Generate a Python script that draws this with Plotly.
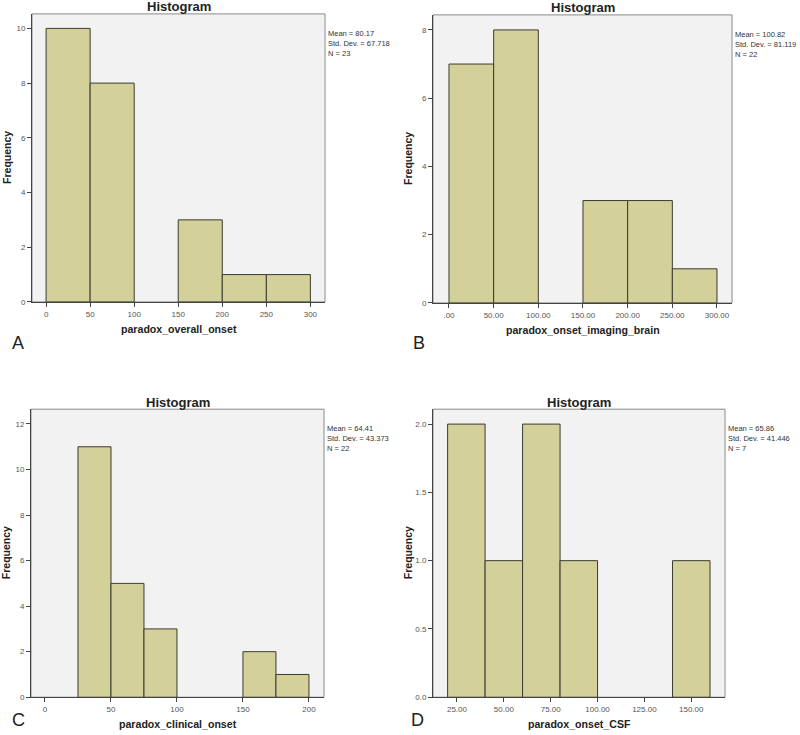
import plotly.graph_objects as go

W, H = 800, 735

# ---- data ----
a_edges = [0, 50, 100, 150, 200, 250, 300]
a_counts = [10, 8, 0, 3, 1, 1]
a_ticks = [0, 50, 100, 150, 200, 250, 300]
a_ticktext = ["0", "50", "100", "150", "200", "250", "300"]
a_yticks = [0, 2, 4, 6, 8, 10]
a_stats = ["Mean = 80.17", "Std. Dev. = 67.718", "N = 23"]

b_edges = [0, 50, 100, 150, 200, 250, 300]
b_counts = [7, 8, 0, 3, 3, 1]
b_ticks = [0, 50, 100, 150, 200, 250, 300]
b_ticktext = [".00", "50.00", "100.00", "150.00", "200.00", "250.00", "300.00"]
b_yticks = [0, 2, 4, 6, 8]
b_stats = ["Mean = 100.82", "Std. Dev. = 81.119", "N = 22"]

c_edges = [25, 50, 75, 100, 125, 150, 175, 200]
c_counts = [11, 5, 3, 0, 0, 2, 1]
c_ticks = [0, 50, 100, 150, 200]
c_ticktext = ["0", "50", "100", "150", "200"]
c_yticks = [0, 2, 4, 6, 8, 10, 12]
c_stats = ["Mean = 64.41", "Std. Dev. = 43.373", "N = 22"]

d_edges = [20, 40, 60, 80, 100, 120, 140, 160]
d_counts = [2, 1, 2, 1, 0, 0, 1]
d_ticks = [25, 50, 75, 100, 125, 150]
d_ticktext = ["25.00", "50.00", "75.00", "100.00", "125.00", "150.00"]
d_yticks = [0, 0.5, 1.0, 1.5, 2.0]
d_yticktext = ["0.0", "0.5", "1.0", "1.5", "2.0"]
d_stats = ["Mean = 65.86", "Std. Dev. = 41.446", "N = 7"]

panels = [
    dict(edges=a_edges, counts=a_counts, ticks=a_ticks, ticktext=a_ticktext,
         yticks=a_yticks, yticktext=[str(v) for v in a_yticks], stats=a_stats,
         xtitle="paradox_overall_onset", letter="A", letter_pos=(18, 345),
         frame=(32, 325, 14, 304), xr=[-16, 316.6], yr=[0, 10.53]),
    dict(edges=b_edges, counts=b_counts, ticks=b_ticks, ticktext=b_ticktext,
         yticks=b_yticks, yticktext=[str(v) for v in b_yticks], stats=b_stats,
         xtitle="paradox_onset_imaging_brain", letter="B", letter_pos=(419, 345),
         frame=(433, 732, 15, 305), xr=[-17.9, 316.8], yr=[0, 8.44]),
    dict(edges=c_edges, counts=c_counts, ticks=c_ticks, ticktext=c_ticktext,
         yticks=c_yticks, yticktext=[str(v) for v in c_yticks], stats=c_stats,
         xtitle="paradox_clinical_onset", letter="C", letter_pos=(18, 725),
         frame=(31, 324, 412, 702), xr=[-10.6, 211.4], yr=[0, 12.65]),
    dict(edges=d_edges, counts=d_counts, ticks=d_ticks, ticktext=d_ticktext,
         yticks=d_yticks, yticktext=d_yticktext, stats=d_stats,
         xtitle="paradox_onset_CSF", letter="D", letter_pos=(417, 725),
         frame=(433, 725, 412, 702), xr=[12.2, 168], yr=[0, 2.109]),
]

BAR = "#D4D09A"
EDGE = "#3b3b30"
BG = "#F2F2F2"
FONT = "Liberation Sans, Arial, sans-serif"

fig = go.Figure()
layout = dict(width=W, height=H, margin=dict(l=0, r=0, t=0, b=0),
              paper_bgcolor="white", plot_bgcolor=BG, showlegend=False,
              annotations=[], shapes=[])

def px(x):
    return x / W

def py(y):
    return 1 - y / H

for i, p in enumerate(panels):
    n = "" if i == 0 else str(i + 1)
    xl, xr_, yt, yb = p["frame"]
    idx = [k for k in range(len(p["counts"])) if p["counts"][k] > 0]
    centers = [(p["edges"][k] + p["edges"][k + 1]) / 2 for k in idx]
    widths = [p["edges"][k + 1] - p["edges"][k] for k in idx]
    counts = [p["counts"][k] for k in idx]
    fig.add_trace(go.Bar(x=centers, y=counts, width=widths,
                         marker=dict(color=BAR, line=dict(color=EDGE, width=1)),
                         xaxis="x" + n, yaxis="y" + n, hoverinfo="x+y"))
    layout["shapes"].append(dict(type="rect", xref="paper", yref="paper",
                                 x0=px(xl), x1=px(xr_), y0=py(yb), y1=py(yt),
                                 line=dict(color="#8a8a8a", width=1), fillcolor=BG,
                                 layer="below"))
    layout["xaxis" + n] = dict(domain=[px(xl), px(xr_)], range=p["xr"], anchor="y" + n,
                               tickmode="array", tickvals=p["ticks"], ticktext=p["ticktext"],
                               ticks="outside", ticklen=4, tickcolor="#444",
                               showline=True, linecolor="#444", linewidth=1,
                               showgrid=False, zeroline=False,
                               tickfont=dict(family=FONT, size=8, color="#555"))
    layout["yaxis" + n] = dict(domain=[py(yb), py(yt)], range=p["yr"], anchor="x" + n,
                               tickmode="array", tickvals=p["yticks"], ticktext=p["yticktext"],
                               ticks="outside", ticklen=4, tickcolor="#444",
                               showline=True, linecolor="#444", linewidth=1,
                               showgrid=False, zeroline=False,
                               tickfont=dict(family=FONT, size=8, color="#555"))
    cx = (xl + xr_) / 2
    layout["annotations"].append(dict(text="<b>Histogram</b>", xref="paper", yref="paper",
                                      x=px(cx), y=py(yt - 7), xanchor="center", yanchor="middle",
                                      showarrow=False, borderpad=0,
                                      font=dict(family=FONT, size=13, color="#222")))
    layout["annotations"].append(dict(text="<br>".join(p["stats"]), xref="paper", yref="paper",
                                      x=px(xr_ + 2), y=py(yt + 14),
                                      xanchor="left", yanchor="top",
                                      align="left", showarrow=False, borderpad=0,
                                      font=dict(family=FONT, size=7.5, color="#333")))
    layout["annotations"].append(dict(text="<b>" + p["xtitle"] + "</b>", xref="paper", yref="paper",
                                      x=px(cx), y=py(yb + 27), xanchor="center", yanchor="middle",
                                      showarrow=False,
                                      font=dict(family=FONT, size=10.6, color="#222")))
    layout["annotations"].append(dict(text="<b>Frequency</b>", xref="paper", yref="paper",
                                      x=px(xl - 25), y=py((yt + yb) / 2), xanchor="center",
                                      yanchor="middle", textangle=-90, showarrow=False,
                                      font=dict(family=FONT, size=10.5, color="#222")))
    lx, ly = p["letter_pos"]
    layout["annotations"].append(dict(text=p["letter"], xref="paper", yref="paper",
                                      x=px(lx), y=py(ly), xanchor="center",
                                      yanchor="middle", showarrow=False,
                                      font=dict(family=FONT, size=18, color="#222")))

fig.update_layout(**layout)
fig.write_html("out.html", config={"displayModeBar": False},
               post_script="document.body.style.margin='0';")
